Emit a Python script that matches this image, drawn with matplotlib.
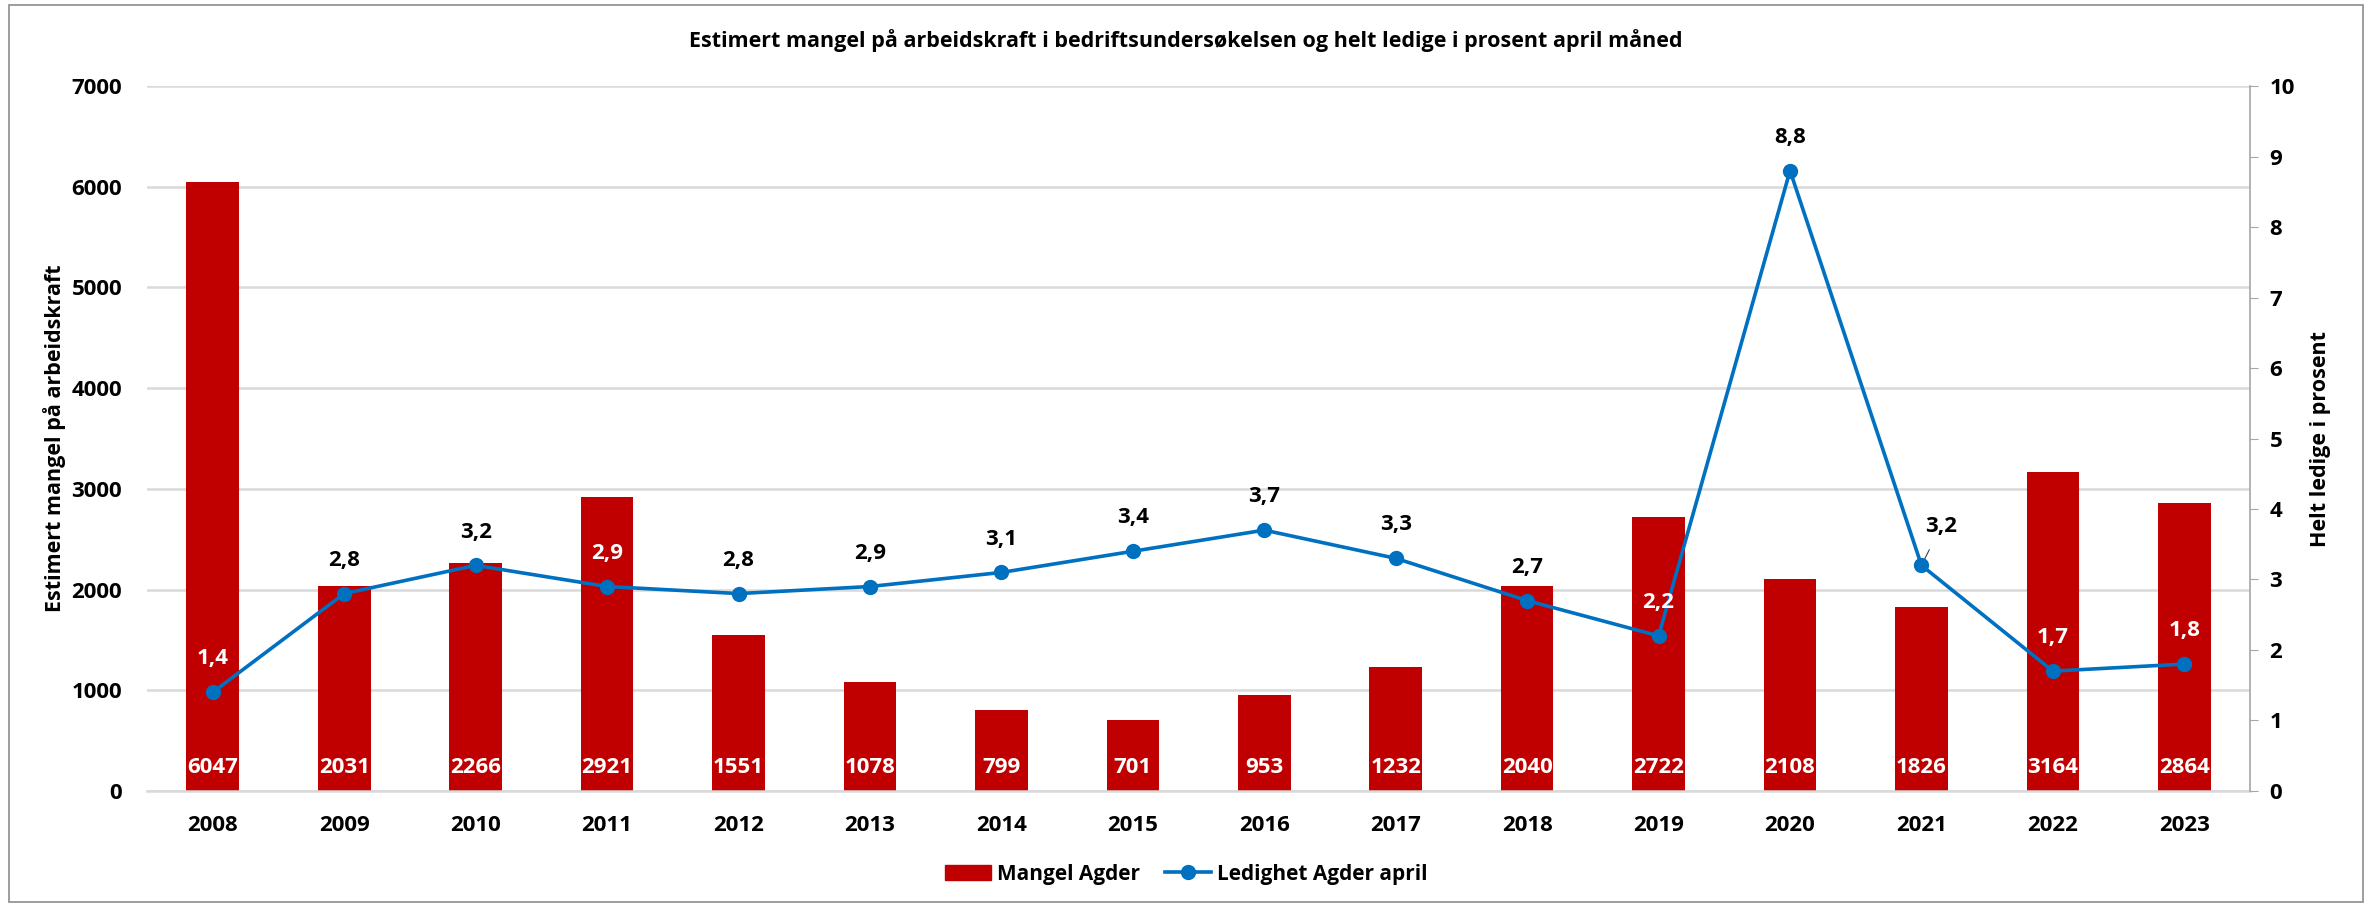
import matplotlib
matplotlib.use("Agg")
import matplotlib.pyplot as plt
from matplotlib.lines import Line2D
from matplotlib.patches import Patch, Rectangle

years = ["2008", "2009", "2010", "2011", "2012", "2013", "2014", "2015",
         "2016", "2017", "2018", "2019", "2020", "2021", "2022", "2023"]
mangel = [6047, 2031, 2266, 2921, 1551, 1078, 799, 701, 953, 1232, 2040, 2722, 2108, 1826, 3164, 2864]
ledighet = [1.4, 2.8, 3.2, 2.9, 2.8, 2.9, 3.1, 3.4, 3.7, 3.3, 2.7, 2.2, 8.8, 3.2, 1.7, 1.8]
left_ticks = [0, 1000, 2000, 3000, 4000, 5000, 6000, 7000]
right_ticks = [0, 1, 2, 3, 4, 5, 6, 7, 8, 9, 10]

title = "Estimert mangel på arbeidskraft i bedriftsundersøkelsen og helt ledige i prosent april måned"
ylabel_left = "Estimert mangel på arbeidskraft"
ylabel_right = "Helt ledige i prosent"
legend_bar = "Mangel Agder"
legend_line = "Ledighet Agder april"

plt.rcParams["font.family"] = ["Open Sans", "DejaVu Sans"]
plt.rcParams["font.weight"] = "bold"

FS = 16
BAR = "#C00000"
LINE = "#0070C0"
GRID = "#D9D9D9"

fig = plt.figure(figsize=(23.72, 9.06), dpi=100)
ax = fig.add_axes([0.062, 0.127, 0.8866, 0.778])
ax2 = ax.twinx()

x = list(range(len(years)))
ax.bar(x, mangel, width=0.4, color=BAR, zorder=2)
ax.set_ylim(0, 7000)
ax.set_xlim(-0.5, len(years) - 0.5)
ax.set_yticks(left_ticks)
ax.set_yticklabels([str(t) for t in left_ticks])
ax.set_xticks(x)
ax.set_xticklabels(years)
ax.grid(axis="y", color=GRID, linewidth=1.8, zorder=0)
ax.set_axisbelow(True)
for s in ["left", "top", "right"]:
    ax.spines[s].set_visible(False)
ax.spines["bottom"].set_color(GRID)
ax.spines["bottom"].set_linewidth(1.8)
ax.tick_params(axis="both", length=0, labelsize=FS)
ax.tick_params(axis="x", pad=17)
ax.tick_params(axis="y", pad=18)
ax.set_ylabel(ylabel_left, fontsize=FS - 0.5, fontweight="bold", labelpad=4)

for xi, v in zip(x, mangel):
    ax.annotate(str(v), (xi, 0), xytext=(0, 17), textcoords="offset points",
                ha="center", va="center", color="white", fontsize=FS, fontweight="bold", zorder=5)

ax2.plot(x, ledighet, color=LINE, linewidth=2.6, marker="o", markersize=10, zorder=4)
ax2.set_ylim(0, 10)
ax2.set_yticks(right_ticks)
ax2.set_yticklabels([str(t) for t in right_ticks])
for s in ["left", "top", "bottom"]:
    ax2.spines[s].set_visible(False)
ax2.spines["right"].set_color("#A6A6A6")
ax2.spines["right"].set_linewidth(1.2)
ax2.tick_params(axis="y", length=6, color="#A6A6A6", labelsize=FS, pad=8)
ax2.set_ylabel(ylabel_right, fontsize=FS - 0.5, fontweight="bold", labelpad=11)

for i, (xi, v, b) in enumerate(zip(x, ledighet, mangel)):
    txt = f"{v:.1f}".replace(".", ",")
    if years[i] == "2021":
        ax2.annotate(txt, (xi, v), xytext=(14, 28), textcoords="offset points",
                     ha="center", va="center", fontsize=FS, fontweight="bold", color="black",
                     arrowprops=dict(arrowstyle="-", color="#404040", lw=0.8, shrinkA=8, shrinkB=2))
        continue
    label_y = v / 10 * 7000 + 25 / 0.72 * 7000 / (0.778 * 906)
    col = "white" if label_y < b else "black"
    ax2.annotate(txt, (xi, v), xytext=(0, 24), textcoords="offset points",
                 ha="center", va="center", fontsize=FS, fontweight="bold", color=col, zorder=6)

fig.text(0.5, 0.955, title, ha="center", va="center", fontsize=15.5, fontweight="bold")

handles = [Patch(facecolor=BAR, edgecolor=BAR),
           Line2D([0], [0], color=LINE, linewidth=2.6, marker="o", markersize=10)]
fig.legend(handles, [legend_bar, legend_line], loc="center", bbox_to_anchor=(0.5, 0.035),
           ncol=2, frameon=False, fontsize=15, handlelength=2.2, columnspacing=1.2, handletextpad=0.3)

fig.patches.append(Rectangle((0.004, 0.004), 0.992, 0.991, transform=fig.transFigure,
                             fill=False, edgecolor="#8C8C8C", linewidth=1.2))

fig.savefig("out.png", dpi=100)
